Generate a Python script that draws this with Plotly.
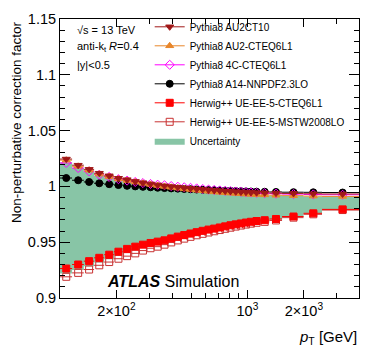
import numpy as np
import plotly.graph_objects as go

# pT bin edges (GeV) and per-bin correction factors
pt_edges = [100, 116, 134, 152, 172, 194, 216, 240, 264, 290, 318, 346, 376, 408,
            442, 478, 516, 556, 598, 642, 688, 736, 786, 838, 894, 952, 1012,
            1076, 1162, 1310, 1530, 1992, 2500, 3937]

au2ct10 = [1.0245, 1.019, 1.0153, 1.0118, 1.0095, 1.0073, 1.006, 1.0045, 1.0033,
           1.0022, 1.0013, 1.0005, 0.9998, 0.9992, 0.9986, 0.9981, 0.9976, 0.9972,
           0.9968, 0.9964, 0.9961, 0.9958, 0.9955, 0.9952, 0.995, 0.9948, 0.9946,
           0.9944, 0.9942, 0.994, 0.9937, 0.9934, 0.9932]
au2_cteq = [1.0235, 1.018, 1.0145, 1.011, 1.0088, 1.0067, 1.0053, 1.004, 1.0028,
            1.0018, 1.0008, 1.0, 0.9992, 0.9985, 0.9978, 0.9972, 0.9966, 0.9961,
            0.9956, 0.9951, 0.9947, 0.9943, 0.994, 0.9937, 0.9934, 0.9931, 0.9929,
            0.9927, 0.9924, 0.9921, 0.9917, 0.9913, 0.991]
p4c_cteq = [1.021, 1.0165, 1.0135, 1.0105, 1.0085, 1.0065, 1.0052, 1.004, 1.003,
            1.0022, 1.0015, 1.001, 1.0003, 0.9997, 0.9992, 0.9987, 0.9982, 0.9977,
            0.9972, 0.9968, 0.9964, 0.996, 0.9957, 0.9954, 0.9951, 0.9948, 0.9945,
            0.9942, 0.9939, 0.9935, 0.9931, 0.9928, 0.9925]
a14_nnpdf = [1.0075, 1.0055, 1.004, 1.0028, 1.002, 1.0012, 1.0005, 1.0, 0.9996,
             0.9992, 0.9988, 0.9985, 0.9982, 0.998, 0.9977, 0.9975, 0.9972, 0.997,
             0.9968, 0.9966, 0.9964, 0.9962, 0.996, 0.9958, 0.9957, 0.9955, 0.9954,
             0.9953, 0.9952, 0.995, 0.9948, 0.9947, 0.9945]
hw_cteq = [0.9264, 0.930, 0.933, 0.936, 0.9388, 0.9415, 0.944, 0.946, 0.9478,
           0.9493, 0.9505, 0.9517, 0.9534, 0.955, 0.9564, 0.9578, 0.959, 0.9602,
           0.9613, 0.9622, 0.9632, 0.9642, 0.9652, 0.966, 0.9668, 0.9676, 0.9683,
           0.969, 0.9697, 0.9708, 0.973, 0.9759, 0.9794]
hw_mstw = [0.919, 0.9225, 0.9255, 0.9293, 0.9322, 0.9352, 0.9375, 0.940, 0.9425,
           0.9446, 0.946, 0.9478, 0.9498, 0.9516, 0.9532, 0.9548, 0.9562, 0.9575,
           0.9587, 0.9598, 0.9609, 0.962, 0.963, 0.964, 0.9649, 0.9658, 0.9666,
           0.9674, 0.9682, 0.9695, 0.972, 0.975, 0.9788]
band_hi = [1.0215, 1.0165, 1.013, 1.0098, 1.0077, 1.0058, 1.0045, 1.0033, 1.0023,
           1.0013, 1.0005, 0.9998, 0.9991, 0.9984, 0.9978, 0.9972, 0.9966, 0.9961,
           0.9956, 0.9951, 0.9947, 0.9943, 0.9939, 0.9936, 0.9933, 0.993, 0.9927,
           0.9924, 0.9921, 0.9918, 0.9914, 0.991, 0.9905]
band_lo = [0.922, 0.925, 0.9285, 0.9318, 0.9348, 0.9378, 0.9403, 0.9426, 0.9448,
           0.9466, 0.948, 0.9495, 0.9515, 0.9532, 0.9547, 0.9562, 0.9575, 0.9588,
           0.96, 0.961, 0.962, 0.963, 0.964, 0.9649, 0.9657, 0.9666, 0.9674,
           0.9682, 0.969, 0.9702, 0.9726, 0.9756, 0.979]

edges = np.array(pt_edges, dtype=float)
centers = 0.5 * (edges[:-1] + edges[1:])
err_lo = centers - edges[:-1]
err_hi = edges[1:] - centers

FONT = "Liberation Sans, Arial, Helvetica, sans-serif"
band_color = "#88c5a6"

# name, values, symbol, color, legend rank
series = [
    ("Herwig++ UE-EE-5-MSTW2008LO", hw_mstw, "square-open", "#c83232", 6),
    ("Herwig++ UE-EE-5-CTEQ6L1", hw_cteq, "square", "#ff0000", 5),
    ("Pythia8 A14-NNPDF2.3LO", a14_nnpdf, "circle", "#000000", 4),
    ("Pythia8 4C-CTEQ6L1", p4c_cteq, "diamond-open", "#ff00ff", 3),
    ("Pythia8 AU2-CTEQ6L1", au2_cteq, "triangle-up", "#e8862a", 2),
    ("Pythia8 AU2CT10", au2ct10, "triangle-down", "#a01818", 1),
]

fig = go.Figure()

# Uncertainty band as a step histogram (lower edge invisible, upper fills to it)
fig.add_trace(go.Scatter(
    x=edges, y=band_lo + band_lo[-1:], mode="lines", line_shape="hv",
    line=dict(width=0, color=band_color), showlegend=False, hoverinfo="skip",
))
fig.add_trace(go.Scatter(
    x=edges, y=band_hi + band_hi[-1:], mode="lines", line_shape="hv",
    line=dict(width=0, color=band_color), fill="tonexty", fillcolor=band_color,
    name="Uncertainty", legendrank=7,
))

for name, vals, sym, col, rank in series:
    fig.add_trace(go.Scatter(
        x=centers, y=vals, mode="markers", name=name, showlegend=False,
        marker=dict(symbol=sym, size=7, color=col, line=dict(width=1, color=col)),
        error_x=dict(type="data", symmetric=False, array=err_hi, arrayminus=err_lo,
                     width=0, thickness=1, color=col),
    ))
    # legend-only entry so the key shows a line through the marker
    fig.add_trace(go.Scatter(
        x=[None], y=[None], mode="lines+markers", name=name, legendrank=rank,
        marker=dict(symbol=sym, size=7, color=col, line=dict(width=1, color=col)),
        line=dict(width=1, color=col),
    ))

fig.update_xaxes(
    type="log", range=[2.0, np.log10(3937)],
    tickmode="array", tickvals=[200, 1000, 2000],
    ticktext=["2×10<sup>2</sup>", "10<sup>3</sup>", "2×10<sup>3</sup>"],
    ticks="inside", ticklen=8, tickcolor="black",
    minor=dict(tickmode="array", tickvals=[300, 400, 500, 600, 700, 800, 900, 3000],
               ticks="inside", ticklen=5, tickcolor="black"),
    showline=True, linecolor="black", linewidth=1, mirror="ticks",
    showgrid=False, zeroline=False,
    tickfont=dict(family=FONT, size=14.5, color="black"),
)
fig.update_yaxes(
    range=[0.9, 1.15], tickmode="array",
    tickvals=[0.9, 0.95, 1.0, 1.05, 1.1, 1.15],
    ticktext=["0.9", "0.95", "1", "1.05", "1.1", "1.15"],
    ticks="inside", ticklen=10, tickcolor="black",
    minor=dict(dtick=0.01, ticks="inside", ticklen=5, tickcolor="black"),
    showline=True, linecolor="black", linewidth=1, mirror="ticks",
    showgrid=False, zeroline=False,
    tickfont=dict(family=FONT, size=14.5, color="black"),
)

annots = [
    dict(x=0.05, y=0.96, text="√s = 13 TeV", size=11, xanchor="left"),
    dict(x=0.05, y=0.90, text="anti-k<sub>t</sub> <i>R</i>=0.4", size=11, xanchor="left"),
    dict(x=0.05, y=0.835, text="|y|<0.5", size=11, xanchor="left"),
    dict(x=0.1505, y=0.06, text="<b><i>ATLAS</i></b> Simulation", size=16, xanchor="left"),
    dict(x=1.0, y=-0.14, text="<i>p</i><sub>T</sub> [GeV]", size=15, xanchor="right"),
]
for a in annots:
    fig.add_annotation(x=a["x"], y=a["y"], xref="paper", yref="paper", text=a["text"],
                       showarrow=False, xanchor=a["xanchor"], yanchor="middle",
                       font=dict(family=FONT, size=a["size"], color="black"))
fig.add_annotation(x=-0.147, y=1.0, xref="paper", yref="paper",
                   text="Non-perturbative correction factor", textangle=-90,
                   showarrow=False, xanchor="center", yanchor="top",
                   font=dict(family=FONT, size=13.5, color="black"))

fig.update_layout(
    width=374, height=355,
    margin=dict(l=60, r=15, t=15, b=57),
    paper_bgcolor="white", plot_bgcolor="white",
    font=dict(family=FONT, color="black"),
    legend=dict(x=0.30, y=1.024, xanchor="left", yanchor="top",
                bgcolor="rgba(0,0,0,0)", borderwidth=0, tracegroupgap=0,
                font=dict(family=FONT, size=10, color="black"),
                traceorder="normal", itemwidth=30),
)

# drop the default page margin so the figure sits flush in the window
fig.write_html("out.html", config={"displayModeBar": False},
               post_script="document.body.style.margin='0';")
